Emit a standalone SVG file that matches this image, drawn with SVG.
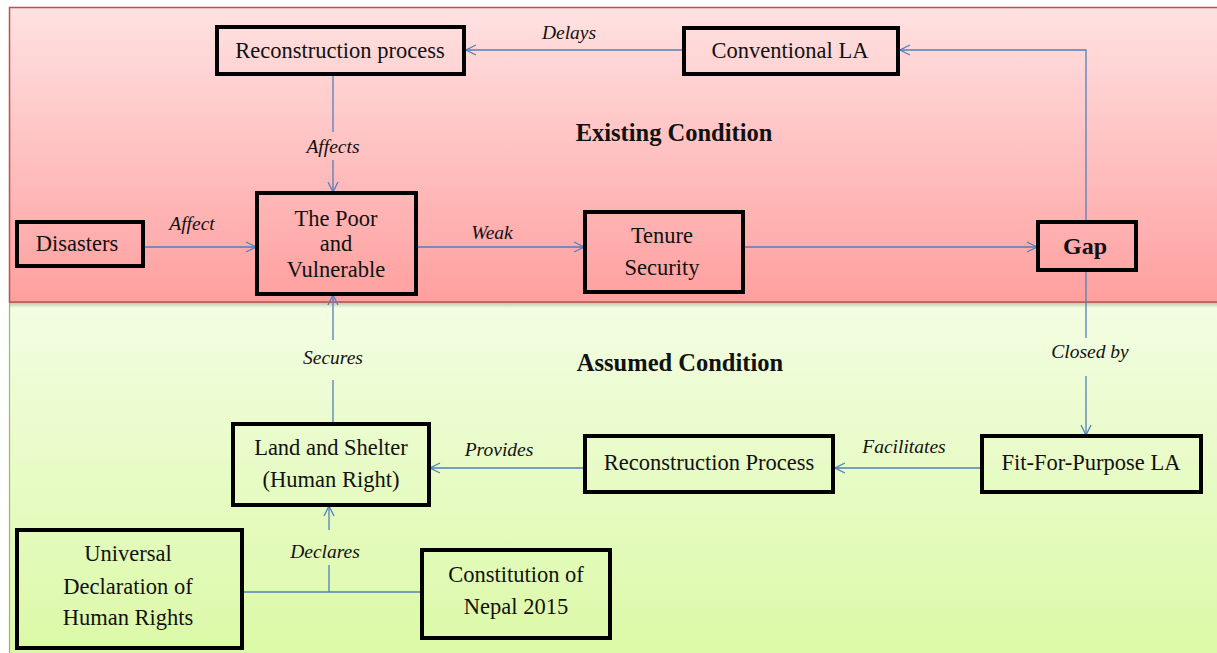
<svg xmlns="http://www.w3.org/2000/svg" width="1217" height="653" viewBox="0 0 1217 653">
<defs>
<linearGradient id="gRed" x1="0" y1="0" x2="0" y2="1">
<stop offset="0" stop-color="#ffe2e2"/>
<stop offset="1" stop-color="#ff9f9f"/>
</linearGradient>
<linearGradient id="gGreen" x1="0" y1="0" x2="0" y2="1">
<stop offset="0" stop-color="#f3fde3"/>
<stop offset="1" stop-color="#dbf9a6"/>
</linearGradient>
<linearGradient id="gShadow" x1="0" y1="0" x2="0" y2="1">
<stop offset="0" stop-color="#8a8a7a" stop-opacity="0.55"/>
<stop offset="1" stop-color="#8a8a7a" stop-opacity="0"/>
</linearGradient>
<marker id="arr" viewBox="0 0 12 12" refX="11" refY="6" markerWidth="12" markerHeight="12" markerUnits="userSpaceOnUse" orient="auto">
<path d="M1,1 L11,6 L1,11" fill="none" stroke="#4f81bd" stroke-width="1.3"/>
</marker>
<style>
.box{fill:none;stroke:#000;stroke-width:4}
.t{font-size:22.5px;fill:#111;text-anchor:middle}
.b{font-weight:bold;font-size:24px}
.h{font-weight:bold;font-size:24.5px}
.lbl{font-size:19.5px;font-style:italic;fill:#111;text-anchor:middle}
.c{fill:none;stroke:#4f81bd;stroke-width:1.3}
</style>
</defs>
<rect x="0" y="0" width="1217" height="653" fill="#ffffff"/>
<g font-family="'Liberation Serif', 'DejaVu Serif', serif">
<g id="panels">
<rect x="9.5" y="302" width="1210" height="355" fill="url(#gGreen)" stroke="#9bbb59" stroke-width="1.2"/>
<rect x="10" y="302" width="1210" height="6" fill="url(#gShadow)"/>
<rect x="9.5" y="7.5" width="1210" height="294.5" fill="url(#gRed)" stroke="#c0504d" stroke-width="1.5"/>
<text class="t h" x="674" y="141">Existing Condition</text>
<text class="t h" x="680" y="371">Assumed Condition</text>
</g>
<g id="connectors">
<path class="c" d="M684,50 L466,50" marker-end="url(#arr)"/>
<text class="lbl" x="569" y="39">Delays</text>
<path class="c" d="M1086,222 L1086,50 L900,50" marker-end="url(#arr)"/>
<path class="c" d="M333,75 L333,132"/>
<path class="c" d="M333,160 L333,192" marker-end="url(#arr)"/>
<text class="lbl" x="333" y="153">Affects</text>
<path class="c" d="M143,247 L256,247" marker-end="url(#arr)"/>
<text class="lbl" x="192" y="230">Affect</text>
<path class="c" d="M416,247 L584,247" marker-end="url(#arr)"/>
<text class="lbl" x="492" y="239">Weak</text>
<path class="c" d="M743,247 L1037,247" marker-end="url(#arr)"/>
<path class="c" d="M1086,270 L1086,338"/>
<path class="c" d="M1086,376 L1086,435" marker-end="url(#arr)"/>
<text class="lbl" x="1090" y="358">Closed by</text>
<path class="c" d="M982,468 L835,468" marker-end="url(#arr)"/>
<text class="lbl" x="904" y="453">Facilitates</text>
<path class="c" d="M585,468 L430,468" marker-end="url(#arr)"/>
<text class="lbl" x="499" y="456">Provides</text>
<path class="c" d="M333,423 L333,380"/>
<path class="c" d="M333,340 L333,295" marker-end="url(#arr)"/>
<text class="lbl" x="333" y="364">Secures</text>
<path class="c" d="M242,592 L422,592"/>
<path class="c" d="M329,592 L329,565"/>
<path class="c" d="M329,530 L329,506" marker-end="url(#arr)"/>
<text class="lbl" x="325" y="558">Declares</text>
</g>
<g id="n-reconstruction-process">
<rect class="box" x="217" y="27" width="247" height="47"/>
<text class="t" x="340" y="58">Reconstruction process</text>
</g>
<g id="n-conventional-la">
<rect class="box" x="684" y="28" width="214" height="46"/>
<text class="t" x="790" y="58">Conventional LA</text>
</g>
<g id="n-disasters">
<rect class="box" x="17" y="222" width="126" height="44"/>
<text class="t" x="77" y="251">Disasters</text>
</g>
<g id="n-poor">
<rect class="box" x="257" y="193" width="159" height="101"/>
<text class="t" x="336" y="226">The Poor</text>
<text class="t" x="336" y="251">and</text>
<text class="t" x="336" y="277">Vulnerable</text>
</g>
<g id="n-tenure">
<rect class="box" x="585" y="212" width="158" height="80"/>
<text class="t" x="662" y="243">Tenure</text>
<text class="t" x="662" y="275">Security</text>
</g>
<g id="n-gap">
<rect class="box" x="1038" y="222" width="98" height="48"/>
<text class="t b" x="1085" y="254">Gap</text>
</g>
<g id="n-land-shelter">
<rect class="box" x="233" y="424" width="196" height="81"/>
<text class="t" x="331" y="455">Land and Shelter</text>
<text class="t" x="331" y="487">(Human Right)</text>
</g>
<g id="n-reconstruction-process-2">
<rect class="box" x="585" y="436" width="248" height="56"/>
<text class="t" x="709" y="470">Reconstruction Process</text>
</g>
<g id="n-ffp-la">
<rect class="box" x="982" y="436" width="219" height="56"/>
<text class="t" x="1091" y="470">Fit-For-Purpose LA</text>
</g>
<g id="n-udhr">
<rect class="box" x="17" y="530" width="225" height="118"/>
<text class="t" x="128" y="561">Universal</text>
<text class="t" x="128" y="594">Declaration of</text>
<text class="t" x="128" y="625">Human Rights</text>
</g>
<g id="n-constitution">
<rect class="box" x="422" y="550" width="188" height="88"/>
<text class="t" x="516" y="582">Constitution of</text>
<text class="t" x="516" y="614">Nepal 2015</text>
</g>
</g>
</svg>
